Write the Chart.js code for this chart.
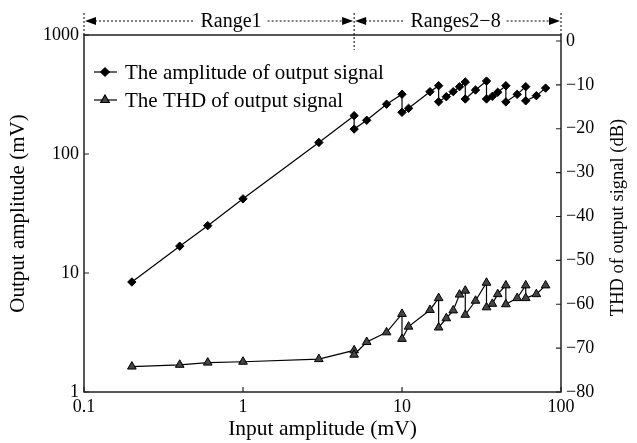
<!DOCTYPE html>
<html>
<head>
<meta charset="utf-8">
<style>
  html, body { margin: 0; padding: 0; background: #fff; }
</style>
</head>
<body>
<canvas id="myChart" width="637" height="443"></canvas>
<script src="https://cdn.jsdelivr.net/npm/chart.js"></script>
<script>
    // data (input mV, output mV, THD dB)
    const inputMv = [0.2, 0.4, 0.6, 1, 3, 5,
                     5, 6, 8, 10,
                     10, 11, 15, 17,
                     17, 19, 21, 23, 25,
                     25, 29, 34,
                     34, 37, 40, 45,
                     45, 53, 60,
                     60, 70, 80];
    const outputMv = [8.4, 16.8, 25, 42, 125, 210,
                      162, 192, 262, 318,
                      224, 242, 334, 375,
                      275, 303, 334, 368, 403,
                      290, 345, 410,
                      290, 305, 330, 375,
                      274, 317, 368,
                      280, 309, 358];
    const thdDb = [-74.2, -73.8, -73.3, -73.1, -72.5, -70.5,
                   -71.5, -68.6, -66.4, -62.2,
                   -67.9, -65.1, -61.3, -58.6,
                   -65.3, -63.2, -61.4, -57.8, -56.9,
                   -62.4, -59.2, -55.1,
                   -60.7, -59.9, -57.7, -55.7,
                   -60.0, -58.6, -55.7,
                   -58.6, -57.7, -55.7];

    const xTicks = [0.1, 1, 10, 100];
    const leftTicks = [1, 10, 100, 1000];
    const rightTicks = [0, -10, -20, -30, -40, -50, -60, -70, -80];
    const seriesNames = ['The amplitude of output signal', 'The THD of output signal'];
    const rangeNames = ['Range1', 'Ranges2\u22128'];
    const rangeBounds = [0.1, 5, 100];

    const FONT = '"Liberation Serif", "Times New Roman", serif';
    const minus = v => v < 0 ? '\u2212' + Math.abs(v) : String(v);

    // box, inward ticks, legend, right title and the range arrows
    const decor = {
        id: 'decor',
        afterDraw(chart) {
            const ctx = chart.ctx;
            const a = chart.chartArea;
            const sx = chart.scales.x, sy = chart.scales.y, sr = chart.scales.y2;
            ctx.save();
            ctx.strokeStyle = '#222';
            ctx.lineWidth = 1.5;
            ctx.strokeRect(a.left, a.top, a.right - a.left, a.bottom - a.top);

            ctx.lineWidth = 1.2;
            ctx.beginPath();
            xTicks.forEach(v => {
                const px = sx.getPixelForValue(v);
                ctx.moveTo(px, a.bottom); ctx.lineTo(px, a.bottom - 5);
            });
            leftTicks.forEach(v => {
                const py = sy.getPixelForValue(v);
                ctx.moveTo(a.left, py); ctx.lineTo(a.left + 5, py);
            });
            rightTicks.forEach(v => {
                const py = sr.getPixelForValue(v);
                ctx.moveTo(a.right, py); ctx.lineTo(a.right - 5, py);
            });
            ctx.stroke();

            // legend
            ctx.font = '21px ' + FONT;
            ctx.fillStyle = '#000';
            ctx.textBaseline = 'middle';
            chart.data.datasets.forEach((ds, i) => {
                const ly = a.top + 37 + i * 28;
                ctx.strokeStyle = '#000';
                ctx.lineWidth = 1.2;
                ctx.beginPath();
                ctx.moveTo(a.left + 10, ly); ctx.lineTo(a.left + 33, ly);
                ctx.stroke();
                ctx.fillStyle = ds.pointBackgroundColor;
                Chart.helpers.drawPoint(ctx, {pointStyle: ds.pointStyle, radius: ds.pointRadius, rotation: 0, borderWidth: 1}, a.left + 21, ly);
                ctx.fillStyle = '#000';
                ctx.fillText(ds.label, a.left + 41, ly + 1);
            });

            // right axis title, reading upward
            ctx.save();
            ctx.translate(a.right + 57, (a.top + a.bottom) / 2 + 4);
            ctx.rotate(-Math.PI / 2);
            ctx.textAlign = 'center';
            ctx.font = '18.5px ' + FONT;
            ctx.fillText('THD of output signal (dB)', 0, 0);
            ctx.restore();

            // range annotation above the plot
            const bx = rangeBounds.map(v => sx.getPixelForValue(v));
            const ay = a.top - 14;
            ctx.strokeStyle = '#000';
            ctx.lineWidth = 1;
            ctx.setLineDash([2, 2]);
            ctx.beginPath();
            bx.forEach((px, i) => {
                ctx.moveTo(px, a.top - 22);
                ctx.lineTo(px, i === 1 ? a.top + 15 : a.top);
            });
            ctx.stroke();
            ctx.font = '20px ' + FONT;
            ctx.textAlign = 'center';
            const arrow = (x, dir) => {
                ctx.beginPath();
                ctx.moveTo(x, ay);
                ctx.lineTo(x - dir * 11, ay - 4);
                ctx.lineTo(x - dir * 11, ay + 4);
                ctx.closePath();
                ctx.fill();
            };
            rangeNames.forEach((name, i) => {
                const x0 = bx[i] + 1, x1 = bx[i + 1] - 1;
                const cx = (x0 + x1) / 2 + (i === 0 ? 12 : -2);
                const w = ctx.measureText(name).width;
                ctx.beginPath();
                ctx.moveTo(x0 + 10, ay); ctx.lineTo(cx - w / 2 - 6, ay);
                ctx.moveTo(cx + w / 2 + 6, ay); ctx.lineTo(x1 - 10, ay);
                ctx.stroke();
                arrow(x0, -1);
                arrow(x1, 1);
                ctx.fillText(name, cx, ay + 1);
            });
            ctx.restore();
        }
    };

    new Chart(document.getElementById('myChart'), {
        type: 'scatter',
        data: {
            datasets: [{
                label: seriesNames[0],
                data: inputMv.map((x, i) => ({x: x, y: outputMv[i]})),
                yAxisID: 'y',
                showLine: true,
                borderColor: '#000',
                borderWidth: 1.2,
                pointStyle: 'rectRot',
                pointRadius: 4.2,
                pointBackgroundColor: '#000',
                pointBorderColor: '#000',
                pointBorderWidth: 1
            }, {
                label: seriesNames[1],
                data: inputMv.map((x, i) => ({x: x, y: thdDb[i]})),
                yAxisID: 'y2',
                showLine: true,
                borderColor: '#000',
                borderWidth: 1.2,
                pointStyle: 'triangle',
                pointRadius: 5,
                pointBackgroundColor: '#444',
                pointBorderColor: '#000',
                pointBorderWidth: 1
            }]
        },
        options: {
            responsive: false,
            animation: false,
            devicePixelRatio: 1,
            layout: {padding: {top: 35, left: 0, right: 0, bottom: 0}},
            plugins: {legend: {display: false}, tooltip: {enabled: false}},
            scales: {
                x: {
                    type: 'logarithmic',
                    min: 0.1, max: 100,
                    afterBuildTicks: s => { s.ticks = xTicks.map(v => ({value: v})); },
                    afterFit: s => { s.height = 51; },
                    grid: {display: false, drawTicks: false},
                    border: {display: false},
                    ticks: {callback: v => String(v), color: '#000', font: {family: FONT, size: 18}, padding: 4, maxRotation: 0, autoSkip: false},
                    title: {display: true, text: 'Input amplitude (mV)', color: '#000', font: {family: FONT, size: 21.5}, padding: {top: 0, bottom: 1}}
                },
                y: {
                    type: 'logarithmic',
                    position: 'left',
                    min: 1, max: 1000,
                    afterBuildTicks: s => { s.ticks = leftTicks.map(v => ({value: v})); },
                    afterFit: s => { s.width = 84; },
                    grid: {display: false, drawTicks: false},
                    border: {display: false},
                    ticks: {callback: v => String(v), color: '#000', font: {family: FONT, size: 18}, padding: 5},
                    title: {display: true, text: 'Output amplitude (mV)', color: '#000', font: {family: FONT, size: 21}, padding: {top: 6, bottom: 0}}
                },
                y2: {
                    type: 'linear',
                    position: 'right',
                    min: -80, max: 1.37,
                    afterBuildTicks: s => { s.ticks = rightTicks.map(v => ({value: v})); },
                    afterFit: s => { s.width = 76; },
                    grid: {display: false, drawTicks: false},
                    border: {display: false},
                    ticks: {callback: v => minus(v), color: '#000', font: {family: FONT, size: 18}, padding: 5}
                }
            }
        },
        plugins: [decor]
    });
</script>
</body>
</html>
